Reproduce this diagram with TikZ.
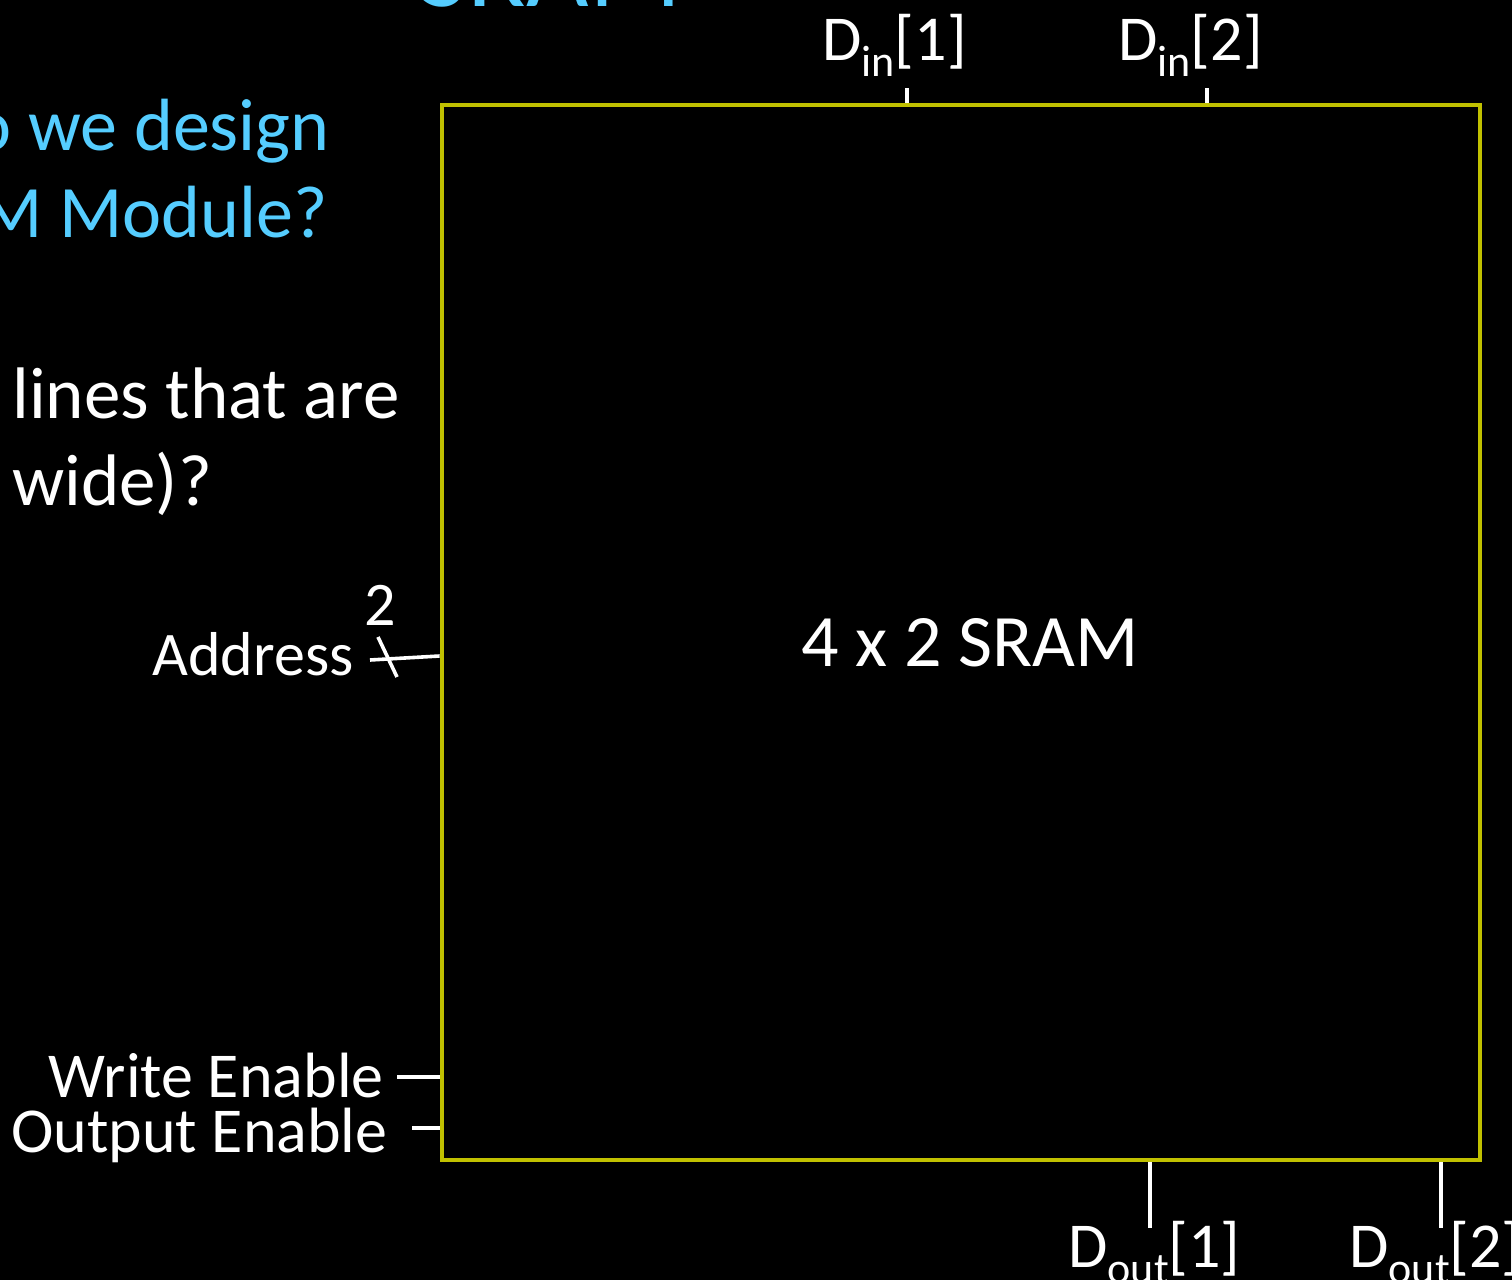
\documentclass[tikz,border=0pt]{standalone}
\usepackage{fontspec}
\setmainfont{Carlito}
\definecolor{boxyellow}{RGB}{192,192,0}
\definecolor{slideblue}{RGB}{85,205,255}
\newcommand\lowsub[1]{\raisebox{-0.26em}{\fontsize{22}{22}\selectfont #1}}
\begin{document}
\begin{tikzpicture}[x=0.5pt,y=-0.5pt,
  txt/.style={inner sep=0pt,text=white},
  bluetxt/.style={inner sep=0pt,text=slideblue},
  wire/.style={draw=white,line width=1.8pt},
]
\useasboundingbox (0,0) rectangle (1512,1280);
\clip (0,0) rectangle (1512,1280);
\fill[black] (0,0) rectangle (1512,1280);

% title and slide text
\node[bluetxt,anchor=base west,font=\fontsize{54}{54}\selectfont] (title) at (418,6) {SRAM};
\node[bluetxt,anchor=base east,font=\fontsize{37}{37}\selectfont] (q1) at (330,150) {o we design};
\node[bluetxt,anchor=base east,font=\fontsize{37}{37}\selectfont] (q2) at (328,237) {M Module?};
\node[txt,anchor=base west,font=\fontsize{36.5}{36.5}\selectfont] (b1) at (12,418) {lines that are};
\node[txt,anchor=base west,font=\fontsize{36.5}{36.5}\selectfont] (b2) at (12,505) {wide)?};

% SRAM block
\node[draw=boxyellow,line width=2.4pt,minimum width=519pt,minimum height=527.5pt,inner sep=0pt] (sram) at (961,632.5) {};
\node[txt,font=\fontsize{37}{37}\selectfont] (sramlbl) at (970,643) {4 x 2 SRAM};

% inputs on top
\coordinate (din1) at (907,88);
\coordinate (din2) at (1207,88);
\draw[wire] (din1) -- (din1 |- sram.north);
\draw[wire] (din2) -- (din2 |- sram.north);
\node[txt,anchor=base west,font=\fontsize{32}{32}\selectfont] (din1lbl) at (822,60) {D\lowsub{in}[1]};
\node[txt,anchor=base west,font=\fontsize{32}{32}\selectfont] (din2lbl) at (1118,60) {D\lowsub{in}[2]};

% outputs at bottom
\coordinate (dout1) at (1150,1228);
\coordinate (dout2) at (1441,1228);
\draw[wire] (dout1 |- sram.south) -- (dout1);
\draw[wire] (dout2 |- sram.south) -- (dout2);
\node[txt,anchor=base west,font=\fontsize{32}{32}\selectfont] (dout1lbl) at (1068,1267) {D\lowsub{out}[1]};
\node[txt,anchor=base west,font=\fontsize{32}{32}\selectfont] (dout2lbl) at (1349,1267) {D\lowsub{out}[2]};

% address
\node[txt,anchor=base east,font=\fontsize{31}{31}\selectfont] (addr) at (354,675) {Address};
\coordinate (addrend) at (370,660);
\draw[wire] (addrend) -- (sram.west |- 0,656);
\coordinate (slashA) at (378,637);
\coordinate (slashB) at (397,677);
\draw[wire] (slashA) -- (slashB);
\node[txt,font=\fontsize{31}{31}\selectfont] (width) at (380,605) {2};

% enables
\node[txt,anchor=base east,font=\fontsize{32}{32}\selectfont] (we) at (384,1097) {Write Enable};
\node[txt,anchor=base east,font=\fontsize{32}{32}\selectfont] (oe) at (388,1152) {Output Enable};
\coordinate (weend) at (397,1077);
\coordinate (oeend) at (412,1128);
\draw[wire] (weend) -- (sram.west |- weend);
\draw[wire] (oeend) -- (sram.west |- oeend);
\end{tikzpicture}
\end{document}
